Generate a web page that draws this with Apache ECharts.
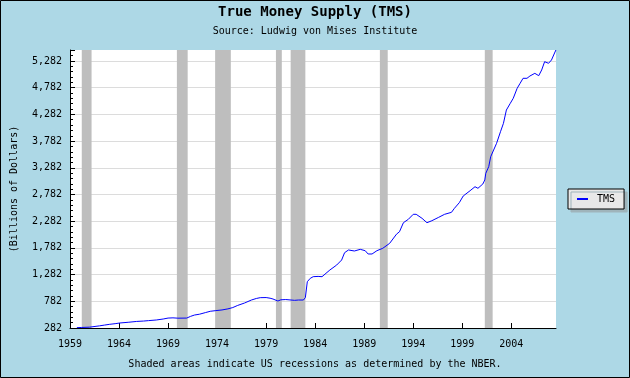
<!DOCTYPE html>
<html>
<head>
<meta charset="utf-8">
<script src="https://cdn.jsdelivr.net/npm/echarts@6/dist/echarts.min.js"></script>
<style>
html,body{margin:0;padding:0;background:#ADD8E6;}
#chart{width:630px;height:378px;}
</style>
</head>
<body>
<div id="chart"></div>
<script>
// Decimal years of the sampled observations
var dates = [1959.7,1960.2,1961.0,1961.2,1962.0,1962.5,1963.0,1963.6,1964.1,1965.0,1965.8,1966.5,1967.0,1967.8,1968.5,1969.0,1969.2,1969.5,1970.0,1970.9,1971.3,1971.7,1972.2,1972.8,1973.3,1973.8,1974.5,1975.1,1975.6,1976.1,1976.8,1977.5,1978.0,1978.4,1979.0,1979.4,1979.7,1979.8,1980.2,1980.5,1980.7,1981.0,1981.2,1981.9,1982.3,1982.8,1983.0,1983.05,1983.2,1983.5,1983.8,1984.3,1984.7,1984.9,1985.5,1986.2,1986.7,1987.0,1987.4,1988.0,1988.6,1989.1,1989.4,1989.8,1990.3,1990.9,1991.6,1992.3,1992.6,1993.0,1993.5,1994.0,1994.3,1994.9,1995.4,1995.9,1996.6,1997.2,1997.9,1998.2,1998.7,1999.1,1999.8,2000.3,2000.6,2001.1,2001.3,2001.4,2001.7,2001.9,2002.2,2002.5,2002.9,2003.2,2003.5,2003.9,2004.2,2004.6,2004.9,2005.2,2005.6,2005.9,2006.4,2006.8,2007.1,2007.4,2007.8,2008.1,2008.3,2008.55];
// True Money Supply, billions of dollars
var tms = [288,292,298,306,322,336,350,363,376,390,405,412,420,432,450,468,482,472,466,468,500,525,540,570,595,606,620,640,665,705,750,806,835,850,852,840,825,845,787,810,838,815,806,800,806,806,850,868,1149,1212,1243,1248,1243,1250,1368,1462,1555,1692,1743,1724,1755,1730,1668,1668,1730,1775,1868,2040,2085,2254,2317,2411,2411,2336,2254,2291,2355,2411,2448,2523,2629,2754,2853,2928,2898,2979,3054,3179,3303,3490,3615,3740,3958,4115,4364,4490,4583,4771,4864,4958,4958,5001,5051,5007,5114,5269,5239,5301,5332,5488];
// NBER recessions (start, end) in decimal years
var recessionStart = [1960.2,1969.9,1973.8,1980.0,1981.5,1990.6,2001.3];
var recessionEnd   = [1961.2,1971.0,1975.4,1980.6,1983.0,1991.4,2002.1];
// Axis settings
var xMin = 1959, xMax = 2008.56, xStep = 5;
var yMin = 282, yMax = 5488, yStep = 500;

var mono = 'DejaVu Sans Mono';
var pts = dates.map(function(d,i){return [d,tms[i]];});
var bands = recessionStart.map(function(s,i){return [{xAxis:s},{xAxis:recessionEnd[i]}];});

var chart = echarts.init(document.getElementById('chart'), null, {renderer:'canvas'});
chart.setOption({
  backgroundColor:'#ADD8E6',
  animation:false,
  title:[
    {text:'True Money Supply (TMS)', left:'center', top:5, padding:0,
     textStyle:{fontFamily:mono, fontSize:14, fontWeight:'bold', color:'#000'}},
    {text:'Source: Ludwig von Mises Institute', left:'center', top:26, padding:0,
     textStyle:{fontFamily:mono, fontSize:10, fontWeight:'normal', color:'#000'}},
    {text:'Shaded areas indicate US recessions as determined by the NBER.', left:'center', top:359, padding:0,
     textStyle:{fontFamily:mono, fontSize:10, fontWeight:'normal', color:'#000'}}
  ],
  grid:{left:70, right:74, top:50, bottom:50, show:true, backgroundColor:'#ffffff', borderWidth:0,
        containLabel:false, outerBoundsMode:'none'},
  legend:{
    data:['TMS'], left:568, top:189, orient:'vertical',
    padding:[5,9,5,9], itemWidth:11, itemHeight:2, icon:'rect',
    backgroundColor:'#e8e8e8', borderColor:'#000', borderWidth:1,
    shadowColor:'#9fb4bb', shadowOffsetX:3, shadowOffsetY:3, shadowBlur:0,
    textStyle:{fontFamily:mono, fontSize:10, color:'#000', padding:[0,0,0,4]}
  },
  xAxis:{
    type:'value', min:xMin, max:xMax, interval:xStep,
    axisLine:{lineStyle:{color:'#000', width:1}},
    axisTick:{inside:true, length:5, lineStyle:{color:'#000'}},
    axisLabel:{fontFamily:mono, fontSize:10, color:'#000', margin:11, showMaxLabel:false,
      formatter:function(v){return String(Math.round(v));}},
    splitLine:{show:false}
  },
  yAxis:{
    type:'value', min:yMin, max:yMax, interval:yStep,
    name:'(Billions of Dollars)', nameLocation:'middle', nameGap:51, nameRotate:90,
    nameTextStyle:{fontFamily:mono, fontSize:10, color:'#000'},
    axisLine:{show:true, lineStyle:{color:'#000', width:1}},
    axisTick:{show:true, inside:true, length:5, lineStyle:{color:'#000'}},
    minorTick:{show:true, splitNumber:5, length:3, lineStyle:{color:'#000'}},
    axisLabel:{fontFamily:mono, fontSize:10, color:'#000', margin:8, showMaxLabel:false,
      formatter:function(v){return Math.round(v).toLocaleString('en-US');}},
    splitLine:{show:true, showMaxLine:false, lineStyle:{color:'#dcdcdc', width:1}}
  },
  series:[
    {name:'recessions', type:'line', data:[], z:1, silent:true,
     markArea:{silent:true, itemStyle:{color:'#bebebe'}, data:bands}},
    {name:'TMS', type:'line', data:pts, z:3, showSymbol:false, symbol:'none',
     lineStyle:{color:'#0000ff', width:1}, itemStyle:{color:'#0000ff'}}
  ],
  graphic:[
    {type:'rect', shape:{x:0.5, y:0.5, width:629, height:377}, style:{fill:null, stroke:'#000', lineWidth:1}, z:100, silent:true}
  ]
});
</script>
</body>
</html>
